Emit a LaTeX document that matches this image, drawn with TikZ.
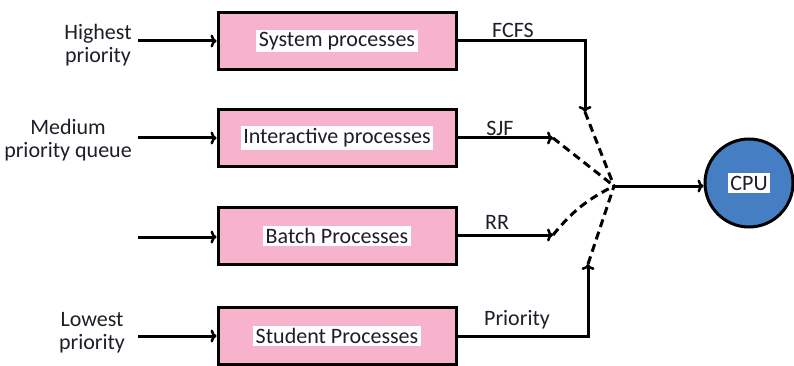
\documentclass[tikz,border=0pt]{standalone}
\usepackage{fontspec}
\setmainfont{Carlito}
\usetikzlibrary{arrows.meta}
\definecolor{procpink}{RGB}{247,178,204}
\definecolor{cpublue}{RGB}{70,126,196}
\definecolor{txt}{RGB}{30,30,40}
\begin{document}
\begin{tikzpicture}[x=1pt,y=-1pt,
  proc/.style={draw=black, line width=3pt, fill=procpink, minimum width=238pt, minimum height=57pt, inner sep=0pt},
  lbl/.style={fill=white, inner sep=2.5pt, font=\fontsize{22}{24}\selectfont, text=txt},
  side/.style={align=center, font=\fontsize{22}{23}\selectfont, text=txt, inner sep=0pt},
  elbl/.style={font=\fontsize{22}{24}\selectfont, text=txt, inner sep=0pt},
  arr/.style={line width=3pt, -{To[length=6pt,width=13pt,line width=2.5pt]}},
  dsh/.style={line width=3pt, dash pattern=on 8pt off 5pt}
]
\useasboundingbox (0,0) rectangle (794,366);

% process boxes
\node[proc] (b1) at (337,41) {};
\node[lbl] (t1) at (b1) {System processes};
\node[proc] (b2) at (337,138) {};
\node[lbl] (t2) at (b2) {Interactive processes};
\node[proc] (b3) at (337,236) {};
\node[lbl] (t3) at (b3) {Batch Processes};
\node[proc] (b4) at (337,336) {};
\node[lbl] (t4) at (b4) {Student Processes};

% CPU
\node[circle, draw=black, line width=3pt, fill=cpublue, minimum size=88pt, inner sep=0pt] (cpu) at (749,183) {};
\node[lbl] (tc) at (cpu) {CPU};

% left labels and input arrows
\node[side] (l1) at (98,45) {Highest\\priority};
\node[side] (l2) at (68,140) {Medium\\priority queue};
\node[side] (l4) at (92,333) {Lowest\\priority};
\coordinate (i1) at (138,41);
\coordinate (i2) at (138,138);
\coordinate (i3) at (138,237);
\coordinate (i4) at (138,336);
\draw[arr] (i1) -- (b1.west |- i1);
\draw[arr] (i2) -- (b2.west |- i2);
\draw[arr] (i3) -- (b3.west |- i3);
\draw[arr] (i4) -- (b4.west |- i4);

% junction points
\coordinate (f) at (585,112);
\coordinate (s) at (553,138);
\coordinate (r) at (553,235);
\coordinate (p) at (588,264);
\coordinate (j) at (614,186);

% outgoing connectors
\draw[arr] (b1.east) -- (585,41) -- (f);
\node[elbl] (e1) at (513,30) {FCFS};
\draw[arr] (b2.east) -- (s);
\node[elbl] (e2) at (500,128) {SJF};
\draw[arr] (b3.east |- r) -- (r);
\node[elbl] (e3) at (497,222) {RR};
\draw[arr] (b4.east) -- (588,336) -- (p);
\node[elbl] (e4) at (517,320) {Priority};

% dashed merges
\draw[dsh] (f) -- (j);
\draw[dsh] (s) -- (j);
\draw[dsh] (r) to[bend left=12] (j);
\draw[dsh] (p) -- (j);

% to CPU
\draw[arr] (j) -- (cpu.west |- j);
\end{tikzpicture}
\end{document}
